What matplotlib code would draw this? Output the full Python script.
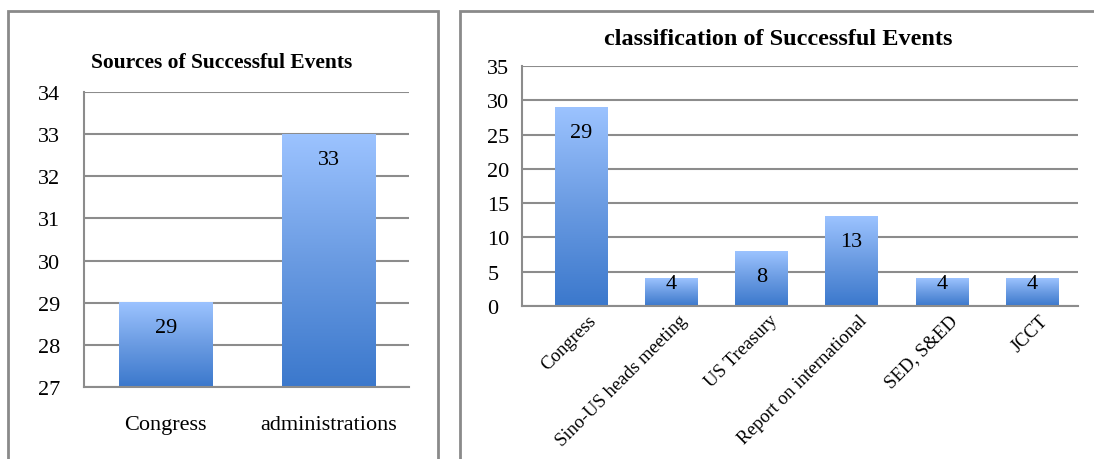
import numpy as np
import matplotlib
matplotlib.use("Agg")
import matplotlib.pyplot as plt
from matplotlib.colors import LinearSegmentedColormap
from matplotlib.patches import Rectangle
import matplotlib.transforms as mtransforms

plt.rcParams['font.family'] = ['Liberation Serif', 'DejaVu Serif']

# data
src_labels = ["Congress", "administrations"]
src_values = [29, 33]

cls_labels = ["Congress", "Sino-US heads meeting", "US Treasury",
              "Report on international", "SED, S&ED", "JCCT"]
cls_values = [29, 4, 8, 13, 4, 4]

W, H = 1094, 460
fig = plt.figure(figsize=(W / 100, H / 100), dpi=100)

grad = LinearSegmentedColormap.from_list("g", ["#3b78cc", "#6a9be2", "#9cc3ff"])
grid_c = "#8c8c8c"


def px_axes(x0, y0, x1, y1):
    return fig.add_axes([x0 / W, 1 - y1 / H, (x1 - x0) / W, (y1 - y0) / H])


def panel(x0, y0, x1, y1):
    fig.patches.append(Rectangle((x0 / W, 1 - y1 / H), (x1 - x0) / W, (y1 - y0) / H,
                                 transform=fig.transFigure, fill=False,
                                 edgecolor="#8a8a8a", linewidth=2))


def gradient_bars(ax, bars, base):
    img = np.linspace(0, 1, 256).reshape(-1, 1)
    for b in bars:
        x = b.get_x()
        w = b.get_width()
        top = b.get_y() + b.get_height()
        ax.imshow(img, cmap=grad, origin="lower", aspect="auto",
                  extent=[x, x + w, base, top], zorder=2)
        b.set_facecolor("none")
        b.set_edgecolor("none")


def style(ax, size):
    ax.grid(axis="y", color=grid_c, linewidth=1.5, zorder=0)
    ax.set_axisbelow(True)
    for s in ["top", "right"]:
        ax.spines[s].set_visible(False)
    ax.spines["left"].set_color(grid_c)
    ax.spines["bottom"].set_color(grid_c)
    ax.spines["left"].set_linewidth(1.5)
    ax.spines["bottom"].set_linewidth(1.5)
    ax.tick_params(length=0, labelsize=size)


def value_labels(ax, bars, values):
    for b, v in zip(bars, values):
        hpx = ax.transData.transform((0, b.get_height()))[1] - ax.transData.transform((0, 0))[1]
        off = -5 if hpx < 40 else -25
        ax.annotate(str(v), (b.get_x() + b.get_width() / 2, b.get_y() + b.get_height()),
                    xytext=(0, off * 0.72), textcoords="offset points",
                    ha="center", va="center", fontsize=16, zorder=5)


# left panel
panel(8, 12, 438, 480)
ax1 = px_axes(84, 93, 409, 388)
x1 = np.arange(len(src_labels))
b1 = ax1.bar(x1, [v - 27 for v in src_values], bottom=27, width=0.57)
ax1.set_ylim(27, 34)
ax1.set_xlim(-0.5, 1.49)
ax1.set_yticks(range(27, 35))
gradient_bars(ax1, b1, 27)
style(ax1, 16)
ax1.set_xticks(x1)
ax1.set_xticklabels(src_labels)
ax1.tick_params(axis="x", pad=20)
ax1.tick_params(axis="y", pad=33)
for t in ax1.get_yticklabels():
    t.set_ha("left")
value_labels(ax1, b1, src_values)
fig.text(222 / W, 1 - 63 / H, "Sources of Successful Events",
         ha="center", va="center", fontsize=15.5, fontweight="bold")

# right panel
panel(460, 12, 1120, 480)
ax2 = px_axes(522, 67, 1078, 307)
x2 = np.arange(len(cls_labels))
b2 = ax2.bar(x2, cls_values, width=0.58)
ax2.set_ylim(0, 35)
ax2.set_xlim(-0.654, 5.51)
ax2.set_yticks(range(0, 36, 5))
gradient_bars(ax2, b2, 0)
style(ax2, 16)
ax2.set_xticks(x2)
ax2.set_xticklabels(cls_labels, rotation=45, ha="right", rotation_mode="anchor",
                    fontsize=13.5)
ax2.tick_params(axis="x", pad=4)
ax2.tick_params(axis="y", pad=25)
for t in ax2.get_yticklabels():
    t.set_ha("left")
shift = mtransforms.ScaledTranslation(7 / 100, 0, fig.dpi_scale_trans)
for t in ax2.get_xticklabels():
    t.set_transform(t.get_transform() + shift)
value_labels(ax2, b2, cls_values)
fig.text(778 / W, 1 - 40 / H, "classification of Successful Events",
         ha="center", va="center", fontsize=17.5, fontweight="bold")

fig.savefig("out.png", dpi=100)
